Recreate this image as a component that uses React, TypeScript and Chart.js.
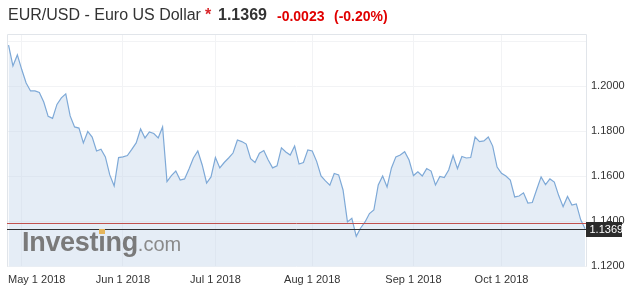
import { useEffect, useRef } from 'react';
import { Chart, registerables } from 'chart.js';

Chart.register(...registerables);

// Daily EUR/USD closes (trading days, Apr 26 – Oct 26 2018)
const values = [
  1.2185, 1.2092, 1.2141, 1.2076, 1.2016, 1.1981, 1.1981, 1.1974, 1.1932, 1.1868,
  1.1859, 1.1921, 1.1950, 1.1968, 1.1870, 1.1821, 1.1816, 1.1750, 1.1801, 1.1776,
  1.1714, 1.1722, 1.1688, 1.1608, 1.1559, 1.1685, 1.1688, 1.1694, 1.1721, 1.1750,
  1.1812, 1.1772, 1.1799, 1.1792, 1.1772, 1.1821, 1.1578, 1.1605, 1.1625, 1.1585,
  1.1590, 1.1634, 1.1683, 1.1714, 1.1652, 1.1572, 1.1599, 1.1685, 1.1639, 1.1663,
  1.1683, 1.1705, 1.1763, 1.1756, 1.1745, 1.1680, 1.1663, 1.1704, 1.1716, 1.1674,
  1.1639, 1.1648, 1.1728, 1.1710, 1.1696, 1.1736, 1.1656, 1.1663, 1.1719, 1.1714,
  1.1668, 1.1603, 1.1581, 1.1562, 1.1614, 1.1608, 1.1541, 1.1399, 1.1415, 1.1335,
  1.1372, 1.1399, 1.1436, 1.1452, 1.1563, 1.1603, 1.1554, 1.1639, 1.1688, 1.1696,
  1.1711, 1.1674, 1.1605, 1.1622, 1.1603, 1.1636, 1.1625, 1.1563, 1.1601, 1.1596,
  1.1630, 1.1694, 1.1636, 1.1690, 1.1683, 1.1685, 1.1776, 1.1756, 1.1759, 1.1776,
  1.1736, 1.1643, 1.1615, 1.1603, 1.1585, 1.1510, 1.1514, 1.1528, 1.1483, 1.1485,
  1.1543, 1.1599, 1.1565, 1.1590, 1.1576, 1.1516, 1.1467, 1.1512, 1.1474, 1.1479,
  1.1408, 1.1369,
];

const monthTickIndex = [3, 26, 47, 69, 92, 112];
const monthLabels = ['May 1 2018', 'Jun 1 2018', 'Jul 1 2018', 'Aug 1 2018', 'Sep 1 2018', 'Oct 1 2018'];
const yTicks = [1.12, 1.14, 1.16, 1.18, 1.2, 1.22];
const yHiddenLabel = 1.22;
const currentPrice = 1.1369;
const previousClose = 1.1392;
const titleText = 'EUR/USD - Euro US Dollar';
const priceText = '1.1369';
const changeText = '-0.0023';
const changePctText = '(-0.20%)';

const FONT = '"Liberation Sans", Arial, Helvetica, sans-serif';

export default function App() {
  const ref = useRef<HTMLCanvasElement>(null);

  useEffect(() => {
    document.body.style.margin = '0';
    const canvas = ref.current;
    if (!canvas) return;

    const framePlugin = {
      id: 'frame',
      beforeDatasetsDraw(chart: any) {
        const { ctx, chartArea: a } = chart;
        ctx.save();
        ctx.strokeStyle = '#e1e5ea';
        ctx.lineWidth = 1;
        const l = Math.round(a.left) + 0.5;
        const t = Math.round(a.top) + 0.5;
        const r = Math.round(a.right) + 0.5;
        ctx.beginPath();
        ctx.moveTo(l, a.bottom);
        ctx.lineTo(l, t);
        ctx.lineTo(r, t);
        ctx.lineTo(r, a.bottom);
        ctx.stroke();
        ctx.restore();
      },
      afterDraw(chart: any) {
        const { ctx, chartArea: a, scales } = chart;
        const ys = scales.y;
        const xs = scales.x;
        ctx.save();
        // previous close line
        const yPrev = Math.round(ys.getPixelForValue(previousClose)) + 0.5;
        ctx.strokeStyle = '#c0504d';
        ctx.lineWidth = 1;
        ctx.beginPath();
        ctx.moveTo(a.left, yPrev);
        ctx.lineTo(a.right, yPrev);
        ctx.stroke();
        // current price line
        const yCur = Math.round(ys.getPixelForValue(currentPrice)) + 0.5;
        ctx.strokeStyle = '#2f3133';
        ctx.beginPath();
        ctx.moveTo(a.left, yCur);
        ctx.lineTo(a.right, yCur);
        ctx.stroke();
        // current price box
        ctx.fillStyle = '#2b2b2b';
        ctx.fillRect(Math.round(a.right), Math.round(yCur - 7.5), 36, 15);
        ctx.fillStyle = '#ffffff';
        ctx.font = `11px ${FONT}`;
        ctx.textAlign = 'left';
        ctx.textBaseline = 'middle';
        ctx.fillText(currentPrice.toFixed(4), Math.round(a.right) + 3.5, yCur + 0.5);
        // x labels
        ctx.fillStyle = '#333333';
        ctx.font = `11px ${FONT}`;
        monthTickIndex.forEach((idx, i) => {
          const px = xs.getPixelForValue(idx);
          const w = ctx.measureText(monthLabels[i]).width;
          const left = Math.max(px - w / 2, a.left + 1);
          ctx.fillText(monthLabels[i], left, 280);
        });
        ctx.restore();
      },
    };

    const chart = new Chart(canvas, {
      type: 'line',
      data: {
        datasets: [
          {
            data: values.map((v, i) => ({ x: i, y: v })),
            borderColor: '#7ea9d7',
            borderWidth: 1.2,
            backgroundColor: 'rgba(197,216,235,0.45)',
            fill: 'start',
            pointRadius: 0,
            tension: 0,
          },
        ],
      },
      options: {
        animation: false,
        responsive: false,
        devicePixelRatio: 1,
        layout: { padding: { left: 7, top: 34, right: 0, bottom: 20.3 } },
        plugins: { legend: { display: false }, tooltip: { enabled: false }, title: { display: false } },
        scales: {
          x: {
            type: 'linear',
            min: -0.35,
            max: values.length - 1 + 0.2,
            afterBuildTicks: (scale: any) => {
              scale.ticks = monthTickIndex.map((v) => ({ value: v }));
            },
            ticks: { display: false },
            grid: { color: '#f2f3f5', drawTicks: false },
            border: { display: false },
          },
          y: {
            position: 'right',
            min: 1.12,
            max: 1.2234,
            afterBuildTicks: (scale: any) => {
              scale.ticks = yTicks.map((v) => ({ value: v }));
            },
            afterFit: (scale: any) => {
              scale.width = 47;
            },
            ticks: {
              padding: 5,
              color: '#333333',
              font: { family: FONT, size: 11 },
              labelOffset: -1,
              callback: (v: any) => (Math.abs(Number(v) - yHiddenLabel) < 1e-6 ? '' : Number(v).toFixed(4)),
            },
            grid: { color: '#f2f3f5', drawTicks: false },
            border: { display: false },
          },
        },
      },
      plugins: [framePlugin],
    });
    return () => chart.destroy();
  }, []);

  const red = '#e00000';
  return (
    <div style={{ position: 'relative', width: 633, height: 287, overflow: 'hidden', fontFamily: FONT }}>
      <canvas ref={ref} width={633} height={287} style={{ position: 'absolute', left: 0, top: 0, width: 633, height: 287 }} />
      <span style={{ position: 'absolute', left: 8, top: 7.2, fontSize: 16, lineHeight: 1, color: '#333', whiteSpace: 'nowrap' }}>{titleText}</span>
      <span style={{ position: 'absolute', left: 205, top: 7.2, fontSize: 16, lineHeight: 1, color: '#d9262a', fontWeight: 'bold' }}>*</span>
      <span style={{ position: 'absolute', left: 218, top: 7.2, fontSize: 16, lineHeight: 1, color: '#333', fontWeight: 'bold' }}>{priceText}</span>
      <span style={{ position: 'absolute', left: 277, top: 8.85, fontSize: 14, lineHeight: 1, color: red, fontWeight: 'bold' }}>{changeText}</span>
      <span style={{ position: 'absolute', left: 334, top: 8.85, fontSize: 14, lineHeight: 1, color: red, fontWeight: 'bold' }}>{changePctText}</span>
      <div style={{ position: 'absolute', left: 22, top: 228.8, fontSize: 27, lineHeight: 1, whiteSpace: 'nowrap', pointerEvents: 'none' }}>
        <span style={{ fontWeight: 'bold', color: '#7a7a7a', letterSpacing: -0.3 }}>
          Invest
          <span style={{ position: 'relative' }}>
            ı
            <span style={{ position: 'absolute', left: '50%', top: 2, width: 6, height: 5, marginLeft: -3, background: '#e6b65c' }} />
          </span>
          ng
        </span>
        <span style={{ fontSize: 20, color: '#8a8a8a' }}>.com</span>
      </div>
    </div>
  );
}
